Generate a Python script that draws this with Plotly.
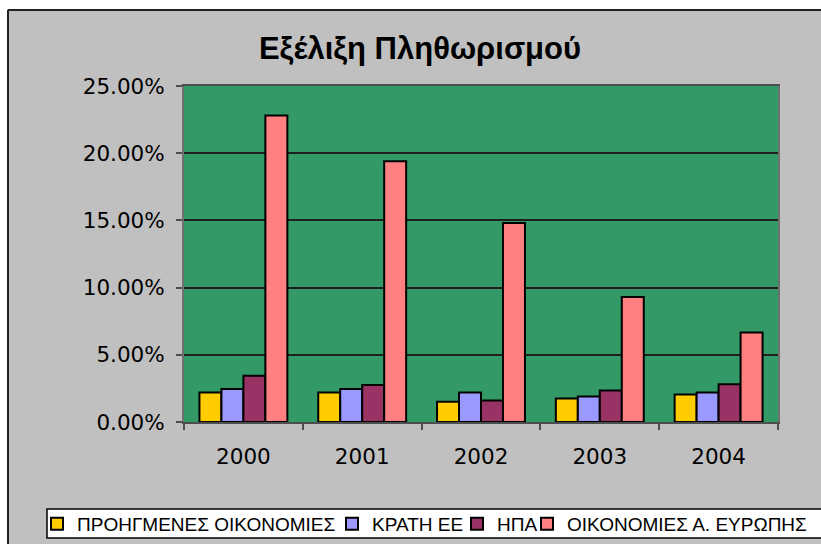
import plotly.graph_objects as go

# Inflation by region, 2000-2004 (fractions, shown as percentages)
years = ["2000", "2001", "2002", "2003", "2004"]
series_names = [
    "ΠΡΟΗΓΜΕΝΕΣ ΟΙΚΟΝΟΜΙΕΣ",
    "ΚΡΑΤΗ ΕΕ",
    "ΗΠΑ",
    "ΟΙΚΟΝΟΜΙΕΣ Α. ΕΥΡΩΠΗΣ",
]
advanced = [0.022, 0.022, 0.015, 0.0175, 0.0205]
eu_states = [0.0245, 0.0245, 0.022, 0.019, 0.022]
usa = [0.0345, 0.0275, 0.016, 0.0235, 0.028]
east_europe = [0.228, 0.194, 0.148, 0.093, 0.0665]
series_values = [advanced, eu_states, usa, east_europe]
series_colors = ["#FFCC00", "#9999FF", "#993366", "#FF8080"]

W, H = 821, 544
L, R, T, B = 184, 778, 86, 422  # plot-area edges in pixels
pw, ph = R - L, B - T


def px_x(x):
    return (x - L) / pw


def px_y(y):
    return (B - y) / ph


fig = go.Figure()
legend_ids = ["legend", "legend2", "legend3", "legend4"]
for name, vals, col, lg in zip(series_names, series_values, series_colors, legend_ids):
    fig.add_trace(go.Bar(
        x=years, y=vals, name=name, legend=lg,
        marker=dict(color=col, line=dict(color="#000000", width=2)),
    ))

font_axis = dict(family="DejaVu Sans", size=21.5, color="#000000")
legend_font = dict(family="Liberation Sans", size=19, color="#000000")

# one single-entry legend per series, laid out in a row
legend_text_x = [77, 372, 497, 567]
legend_layouts = {}
for lg, tx in zip(legend_ids, legend_text_x):
    legend_layouts[lg] = dict(
        x=(tx - 40) / W, xanchor="left", xref="container",
        y=1 - 524 / H, yanchor="middle", yref="container",
        orientation="h", bgcolor="rgba(0,0,0,0)", borderwidth=0,
        font=legend_font, itemclick=False,
    )

fig.update_layout(
    width=W, height=H,
    margin=dict(l=L, r=W - R, t=T, b=H - B, pad=0, autoexpand=False),
    paper_bgcolor="#C0C0C0",
    plot_bgcolor="#339966",
    barmode="group",
    bargap=0.26,
    bargroupgap=0,
    showlegend=True,
    title=dict(
        text="<b>Εξέλιξη Πληθωρισμού</b>",
        font=dict(family="Liberation Sans", size=31, color="#000000"),
        x=420 / W, xref="container", xanchor="center",
        y=1 - 48 / H, yref="container", yanchor="middle",
    ),
    xaxis=dict(
        type="category",
        showgrid=False,
        showline=True, linecolor="#4d4d4d", linewidth=2, mirror=True,
        ticks="outside", ticklen=6, tickwidth=2, tickcolor="#4d4d4d",
        tickson="boundaries",
        tickfont=font_axis,
        ticklabelstandoff=14,
    ),
    yaxis=dict(
        range=[0, 0.25], dtick=0.05, tickformat=".2%",
        showgrid=True, gridcolor="#1f1f1f", gridwidth=1.5,
        zeroline=False,
        showline=True, linecolor="#707070", linewidth=2, mirror=True,
        ticks="outside", ticklen=6, tickwidth=2, tickcolor="#4d4d4d",
        tickfont=font_axis,
        ticklabelstandoff=7,
    ),
    **legend_layouts,
)

shapes = [
    # white margin above and left of the chart frame
    dict(type="rect", xref="paper", yref="paper", layer="above",
         x0=px_x(-5), x1=px_x(W + 5), y0=px_y(-5), y1=px_y(9),
         fillcolor="#FFFFFF", line=dict(width=0)),
    dict(type="rect", xref="paper", yref="paper", layer="above",
         x0=px_x(-5), x1=px_x(7), y0=px_y(-5), y1=px_y(H + 5),
         fillcolor="#FFFFFF", line=dict(width=0)),
    # chart frame edges
    dict(type="line", xref="paper", yref="paper", layer="above",
         x0=px_x(8), x1=px_x(W + 5), y0=px_y(10), y1=px_y(10),
         line=dict(color="#222222", width=2)),
    dict(type="line", xref="paper", yref="paper", layer="above",
         x0=px_x(8), x1=px_x(8), y0=px_y(10), y1=px_y(H + 5),
         line=dict(color="#222222", width=2)),
    # legend box
    dict(type="rect", xref="paper", yref="paper", layer="above",
         x0=px_x(47), x1=px_x(W + 20), y0=px_y(509), y1=px_y(538),
         fillcolor="#FFFFFF", line=dict(color="#000000", width=1.5)),
]
fig.update_layout(shapes=shapes)

fig.write_html("out.html")
